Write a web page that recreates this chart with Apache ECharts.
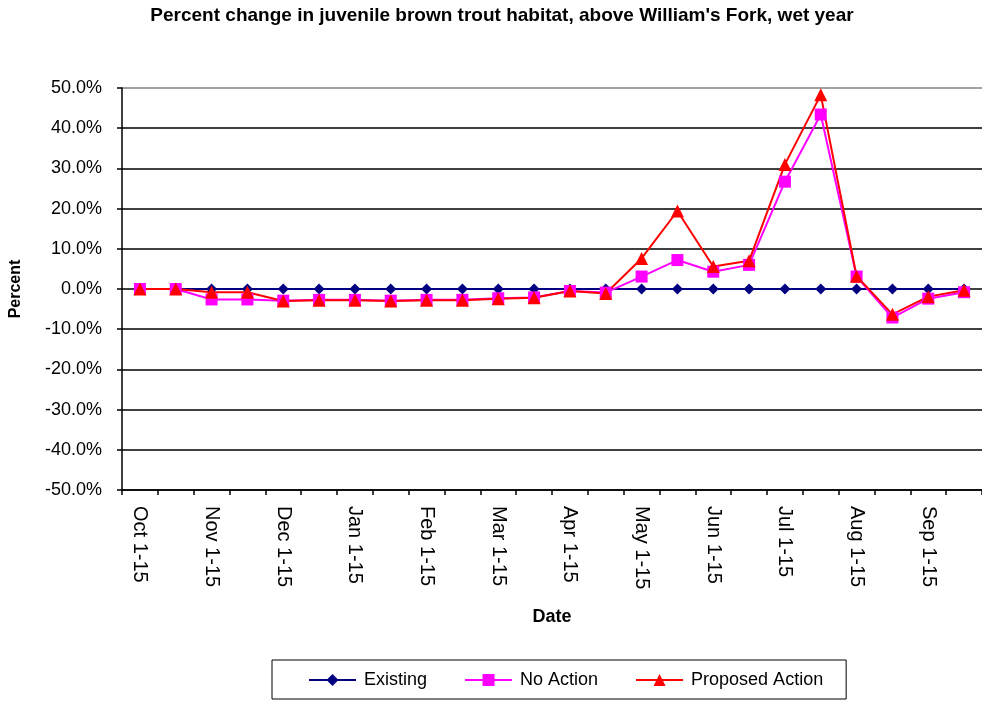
<!DOCTYPE html>
<html>
<head>
<meta charset="utf-8">
<script src="https://cdn.jsdelivr.net/npm/echarts@6/dist/echarts.min.js"></script>
<style>
html,body{margin:0;padding:0;background:#fff;}
#chart{width:982px;height:702px;}
</style>
</head>
<body>
<div id="chart"></div>
<script>
var categories = ['Oct 1-15','Oct 16-31','Nov 1-15','Nov 16-30','Dec 1-15','Dec 16-31','Jan 1-15','Jan 16-31','Feb 1-15','Feb 16-28','Mar 1-15','Mar 16-31','Apr 1-15','Apr 16-30','May 1-15','May 16-31','Jun 1-15','Jun 16-30','Jul 1-15','Jul 16-31','Aug 1-15','Aug 16-31','Sep 1-15','Sep 16-30'];
var existing = [0,0,0,0,0,0,0,0,0,0,0,0,0,0,0,0,0,0,0,0,0,0,0,0];
var noAction = [0,0,-2.6,-2.6,-2.9,-2.7,-2.7,-2.9,-2.7,-2.7,-2.3,-2.1,-0.5,-0.9,3.1,7.2,4.3,6.0,26.7,43.4,3.1,-7.1,-2.4,-0.8];
var proposed = [0,0,-0.8,-0.8,-3.0,-2.8,-2.8,-3.0,-2.8,-2.8,-2.4,-2.2,-0.5,-1.1,7.6,19.4,5.6,7.0,31.0,48.3,3.2,-6.3,-1.9,-0.3];
var titleText = "Percent change in juvenile brown trout habitat, above William's Fork, wet year";

var FONT = '"Liberation Sans", Arial, sans-serif';
var chart = echarts.init(document.getElementById('chart'), null, {renderer:'canvas'});
chart.setOption({
  animation:false,
  backgroundColor:'#fff',
  graphic:[{
    type:'text', x:502, y:6,
    style:{text:titleText, fontFamily:FONT, fontSize:19, fontWeight:'bold', fill:'#000', align:'center', verticalAlign:'top'}
  }],
  grid:{left:121,right:0,top:88,bottom:212,containLabel:false},
  legend:{
    left:272, top:660,
    padding:[11,23,10,36],
    borderColor:'#000', borderWidth:1,
    itemWidth:47, itemHeight:15, itemGap:37,
    textStyle:{fontFamily:FONT,fontSize:18,color:'#000',padding:[0,0,0,3]},
    data:['Existing','No Action','Proposed Action']
  },
  xAxis:{
    type:'category', data:categories, boundaryGap:true,
    name:'Date', nameLocation:'middle', nameGap:118,
    nameTextStyle:{fontFamily:FONT,fontSize:18,fontWeight:'bold',color:'#000'},
    axisLine:{onZero:false,lineStyle:{color:'#000',width:1.5}},
    axisTick:{show:true,interval:0,length:5,lineStyle:{color:'#000',width:1.5}},
    axisLabel:{interval:1,rotate:-90,margin:16,fontFamily:FONT,fontSize:20,color:'#000'},
    splitLine:{show:false}
  },
  yAxis:{
    type:'value', min:-50, max:50, interval:10,
    name:'Percent', nameLocation:'middle', nameGap:98, nameRotate:90,
    nameTextStyle:{fontFamily:FONT,fontSize:16,fontWeight:'bold',color:'#000'},
    axisLine:{show:true,lineStyle:{color:'#000',width:1.5}},
    axisTick:{show:true,length:5,lineStyle:{color:'#000',width:1.5}},
    axisLabel:{margin:20,fontFamily:FONT,fontSize:18,color:'#000',formatter:function(v){return v.toFixed(1)+'%';}},
    splitLine:{show:true,lineStyle:{color:['#000','#000','#000','#000','#000','#000','#000','#000','#000','#000','#808080'],width:1.5}}
  },
  series:[
    {name:'Existing',type:'line',data:existing,symbol:'diamond',symbolSize:11,
     itemStyle:{color:'#000080'},lineStyle:{color:'#000080',width:2}},
    {name:'No Action',type:'line',data:noAction,symbol:'rect',symbolSize:12,
     itemStyle:{color:'#FF00FF'},lineStyle:{color:'#FF00FF',width:2}},
    {name:'Proposed Action',type:'line',data:proposed,symbol:'triangle',symbolSize:13,
     itemStyle:{color:'#FF0000'},lineStyle:{color:'#FF0000',width:2}}
  ]
});
</script>
</body>
</html>
